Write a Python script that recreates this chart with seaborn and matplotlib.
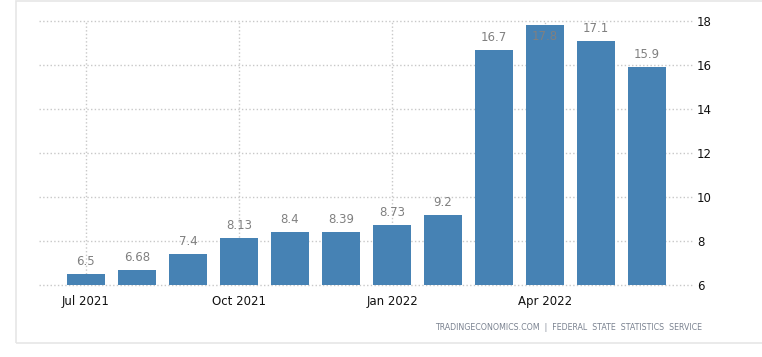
import pandas as pd
import seaborn as sns
import matplotlib.pyplot as plt
from matplotlib.patches import Rectangle

months = ['Jul 2021', 'Aug 2021', 'Sep 2021', 'Oct 2021', 'Nov 2021', 'Dec 2021',
          'Jan 2022', 'Feb 2022', 'Mar 2022', 'Apr 2022', 'May 2022', 'Jun 2022']
values = [6.5, 6.68, 7.4, 8.13, 8.4, 8.39, 8.73, 9.2, 16.7, 17.8, 17.1, 15.9]
labels = ['6.5', '6.68', '7.4', '8.13', '8.4', '8.39', '8.73', '9.2', '16.7', '17.8', '17.1', '15.9']
shown_months = ['Jul 2021', 'Oct 2021', 'Jan 2022', 'Apr 2022']
yticks = [6, 8, 10, 12, 14, 16, 18]

df = pd.DataFrame({'month': months, 'value': values})

sns.set_style('white')
plt.rcParams['font.family'] = ['DejaVu Sans']

fig = plt.figure(figsize=(7.62, 3.57), dpi=100)
ax = fig.add_axes([39 / 762, 72 / 357, (693 - 39) / 762, (285 - 21) / 357])

sns.barplot(data=df, x='month', y='value', color='#4682b4', saturation=1,
            width=0.75, linewidth=0, ax=ax, zorder=2)

ax.set_ylim(6, 18)
ax.set_xlim(-0.92, 11.9)
ax.set_yticks(yticks)
ax.yaxis.tick_right()
ax.tick_params(axis='y', length=0, pad=3, labelsize=8.5, labelcolor='#111111')

pos = [months.index(m) for m in shown_months]
ax.set_xticks(pos)
ax.set_xticklabels(shown_months)
ax.tick_params(axis='x', length=4, color='#cccccc', pad=3, labelsize=8.5, labelcolor='#111111')

ax.grid(True, axis='both', linestyle=':', color='#c8c8c8', linewidth=1, zorder=0)
ax.set_axisbelow(True)
for g in ax.get_ygridlines():
    g.set_clip_on(False)
for s in ax.spines.values():
    s.set_visible(False)
ax.set_xlabel('')
ax.set_ylabel('')

# value labels
for i, (v, lab) in enumerate(zip(values, labels)):
    off = 9 if v < 17.5 else -8
    ax.annotate(lab, (i, v), xytext=(0, off), textcoords='offset points',
                ha='center', va='center', fontsize=8.5, color='#808080',
                annotation_clip=False)

fig.text(702 / 762, 1 - 327 / 357, 'TRADINGECONOMICS.COM  |  FEDERAL  STATE  STATISTICS  SERVICE',
         ha='right', va='center', fontsize=5.7, color='#7a8290')

fig.patches.append(Rectangle((16 / 762, 1 - 343 / 357), 1.0, (342 / 357),
                             transform=fig.transFigure, fill=False,
                             edgecolor='#e6e6e6', linewidth=1.2))

plt.savefig('out.png', dpi=100)
